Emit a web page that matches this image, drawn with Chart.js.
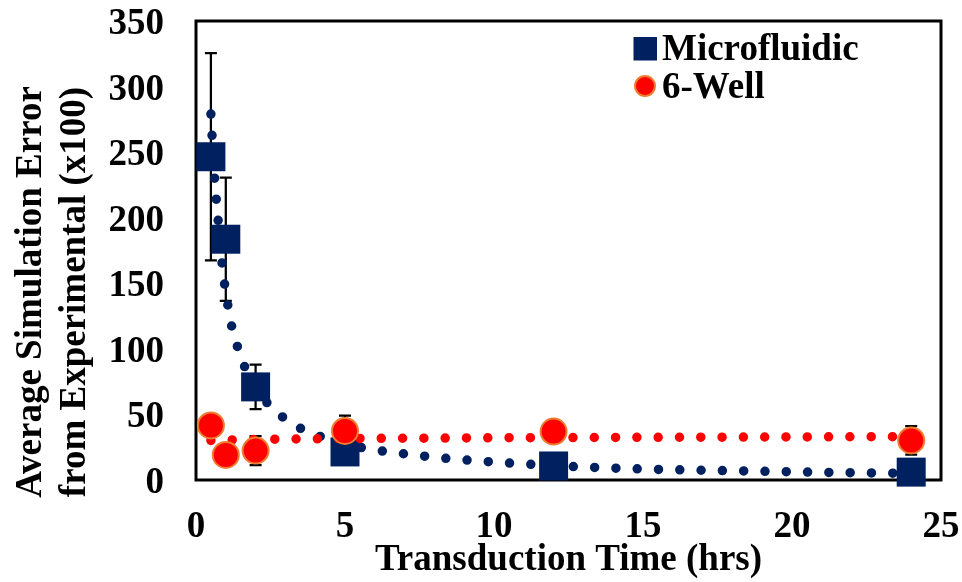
<!DOCTYPE html>
<html>
<head>
<meta charset="utf-8">
<title>Simulation error vs transduction time</title>
<script src="https://cdn.jsdelivr.net/npm/chart.js@4/dist/chart.umd.min.js"></script>
<style>
  html, body { margin: 0; padding: 0; background: #fff; }
  #wrap { width: 962px; height: 582px; position: relative; }
</style>
</head>
<body>
<div id="wrap"><canvas id="chart"></canvas></div>
<script>
// --- data ---
const hours = [0.5, 1, 2, 5, 12, 24];
const microMean = [246.5, 183.6, 71, 21.4, 10.7, 6];
const microErr = [79, 47, 17, 5, 2, 1];
const wellMean = [41.6, 19.1, 22.4, 37.4, 36.9, 30.2];
const wellErr = [5, 6, 11, 11.7, 6, 10.9];

// dotted trendlines
const microTrendX = [0.5, 0.6, 0.75, 0.9, 1.07, 1.2, 1.4, 1.64, 2, 2.4, 2.93, 3.54, 4.2, 5, 5.6, 7, 8.5, 9.8, 12.7, 15.5, 18.4, 21.2, 24];
const microTrendY = [279, 238, 196, 160, 133, 117, 101, 86, 70.5, 58.5, 47.6, 39, 33, 28, 24.5, 19.9, 16.3, 14, 10.2, 8.1, 6.9, 5.8, 5];
const wellTrendX = [0.5, 2, 5, 10, 24];
const wellTrendY = [30.2, 31, 31.6, 32.2, 33.1];

const xTicks = [0, 5, 10, 15, 20, 25];
const yTicks = [0, 50, 100, 150, 200, 250, 300, 350];
const xTitle = 'Transduction Time (hrs)';
const yTitle = ['Average Simulation Error', 'from Experimental (x100)'];
const seriesNames = ['Microfluidic', '6-Well'];

const NAVY = '#002060', RED = '#ff0000', ORANGE = '#ed7d31';
const FONT = 'bold 37px "Liberation Serif", "Times New Roman", serif';

const pts = (xs, ys) => xs.map((v, i) => ({ x: v, y: ys[i] }));

// frame + error bars under the marks, all text on top
const decor = {
  id: 'decor',
  beforeDatasetsDraw(chart) {
    const { ctx, chartArea: a, scales: { x, y } } = chart;
    ctx.save();
    ctx.strokeStyle = '#000';
    ctx.lineWidth = 3;
    ctx.strokeRect(a.left, a.top, a.right - a.left, a.bottom - a.top);

    ctx.lineWidth = 2.25;
    [[microMean, microErr], [wellMean, wellErr]].forEach(([m, e]) => {
      hours.forEach((h, i) => {
        const px = x.getPixelForValue(h);
        const hi = y.getPixelForValue(m[i] + e[i]);
        const lo = y.getPixelForValue(m[i] - e[i]);
        ctx.beginPath();
        ctx.moveTo(px, hi); ctx.lineTo(px, lo);
        ctx.moveTo(px - 6, hi); ctx.lineTo(px + 6, hi);
        ctx.moveTo(px - 6, lo); ctx.lineTo(px + 6, lo);
        ctx.stroke();
      });
    });
    ctx.restore();
  },
  afterDraw(chart) {
    const { ctx, scales: { x, y } } = chart;
    ctx.save();
    ctx.fillStyle = '#000';
    ctx.font = FONT;
    ctx.textBaseline = 'alphabetic';

    // y ticks
    ctx.textAlign = 'right';
    yTicks.forEach(v => ctx.fillText(String(v), 164, y.getPixelForValue(v) + 13));

    // x ticks
    ctx.textAlign = 'center';
    xTicks.forEach(v => ctx.fillText(String(v), x.getPixelForValue(v), 537));

    // x title
    ctx.fillText(xTitle, (x.left + x.right) / 2, 570);

    // y title, two rotated lines
    ctx.save();
    ctx.translate(0, 292);
    ctx.rotate(-Math.PI / 2);
    ctx.fillText(yTitle[0], 0, 41);
    ctx.fillText(yTitle[1], 0, 85);
    ctx.restore();

    // legend
    ctx.textAlign = 'left';
    ctx.fillStyle = NAVY;
    ctx.fillRect(633.5, 37, 23.5, 23.5);
    ctx.beginPath();
    ctx.arc(645, 86, 10, 0, Math.PI * 2);
    ctx.fillStyle = RED;
    ctx.fill();
    ctx.lineWidth = 2;
    ctx.strokeStyle = ORANGE;
    ctx.stroke();
    ctx.fillStyle = '#000';
    ctx.fillText(seriesNames[0], 662, 60);
    ctx.fillText(seriesNames[1], 662, 98);
    ctx.restore();
  }
};

new Chart(document.getElementById('chart'), {
  type: 'scatter',
  data: {
    datasets: [
      {
        label: seriesNames[1],
        data: pts(hours, wellMean),
        pointStyle: 'circle',
        pointRadius: 13,
        backgroundColor: RED,
        borderColor: ORANGE,
        borderWidth: 2,
        showLine: false,
        clip: false,
        order: 1
      },
      {
        label: seriesNames[1] + ' trend',
        type: 'line',
        data: pts(wellTrendX, wellTrendY),
        borderColor: RED,
        borderWidth: 9.5,
        borderDash: [0, 21.3],
        borderCapStyle: 'round',
        pointRadius: 0,
        fill: false,
        clip: false,
        order: 2
      },
      {
        label: seriesNames[0],
        data: pts(hours, microMean),
        pointStyle: 'rect',
        pointRadius: 20.5,
        backgroundColor: NAVY,
        borderColor: NAVY,
        borderWidth: 0,
        showLine: false,
        clip: false,
        order: 3
      },
      {
        label: seriesNames[0] + ' trend',
        type: 'line',
        data: pts(microTrendX, microTrendY),
        borderColor: NAVY,
        borderWidth: 9.5,
        borderDash: [0, 21.3],
        borderCapStyle: 'round',
        cubicInterpolationMode: 'monotone',
        pointRadius: 0,
        fill: false,
        clip: false,
        order: 4
      }
    ]
  },
  options: {
    responsive: true,
    maintainAspectRatio: false,
    animation: false,
    events: [],
    layout: { padding: { left: 196, top: 21, right: 21, bottom: 102 } },
    plugins: { legend: { display: false }, tooltip: { enabled: false } },
    scales: {
      x: { type: 'linear', min: 0, max: 25, display: false },
      y: { type: 'linear', min: 0, max: 350, display: false }
    }
  },
  plugins: [decor]
});
</script>
</body>
</html>
